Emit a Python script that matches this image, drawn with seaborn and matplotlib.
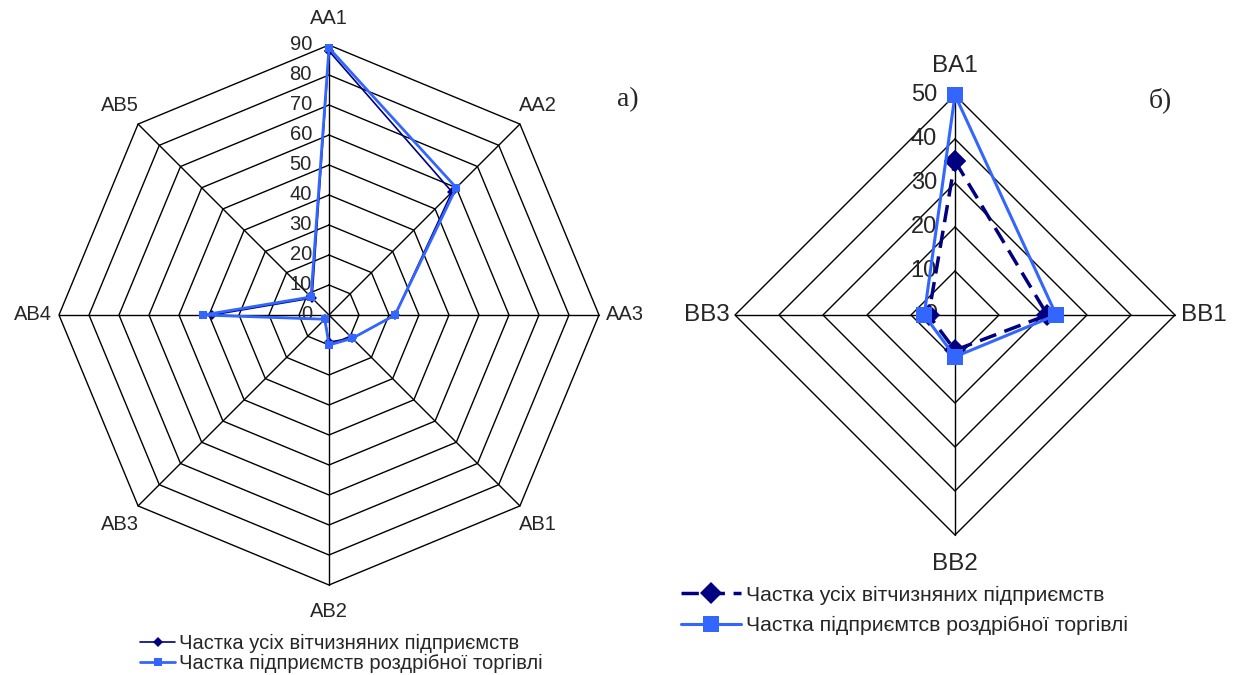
import numpy as np
import pandas as pd
import matplotlib
matplotlib.use('Agg')
import matplotlib.pyplot as plt
import matplotlib.transforms as mtransforms
import seaborn as sns

# дані з рисунка
left_cats = ['AA1', 'AA2', 'AA3', 'AB1', 'AB2', 'AB3', 'AB4', 'AB5']
left_all = [88, 58, 22, 11, 9, 2, 39, 8]
left_retail = [89, 60, 22, 11, 10, 2, 42, 8.5]
left_ticks = [0, 10, 20, 30, 40, 50, 60, 70, 80, 90]

right_cats = ['BA1', 'BB1', 'BB2', 'BB3']
right_all = [35, 21, 8, 6]
right_retail = [50, 23, 9.5, 7]
right_ticks = [0, 10, 20, 30, 40, 50]

label_all = 'Частка усіх вітчизняних підприємств'
label_retail_a = 'Частка підприємств роздрібної торгівлі'
label_retail_b = 'Частка підприємтсв роздрібної торгівлі'

sns.set_style('white')
plt.rcParams['font.family'] = ['Liberation Sans', 'DejaVu Sans']

NAVY = '#000080'
BLUE = '#3366FF'


def radar_frame(ax, cats, ticks, lab_r, fs_cat, fs_tick, tick_dx):
    n = len(cats)
    theta = np.linspace(0, 2 * np.pi, n, endpoint=False)
    ax.set_theta_zero_location('N')
    ax.set_theta_direction(-1)
    ax.grid(False)
    ax.spines['polar'].set_visible(False)
    ax.set_xticks([])
    ax.set_yticks([])
    ax.set_ylim(0, ticks[-1])
    tc = np.append(theta, 0)
    # багатокутна сітка
    for t in ticks[1:]:
        ax.plot(tc, [t] * (n + 1), color='black', lw=1.0, zorder=1, clip_on=False)
    for th in theta:
        ax.plot([th, th], [0, ticks[-1]], color='black', lw=1.0, zorder=1, clip_on=False)
    # підписи шкали
    tr = mtransforms.offset_copy(ax.transData, fig=ax.figure, x=tick_dx, y=0, units='dots')
    for t in ticks:
        ax.text(0, t, str(t), transform=tr, ha='right', va='center', fontsize=fs_tick, zorder=2)
    for th, c in zip(theta, cats):
        ax.text(th, lab_r, c, ha='center', va='center', fontsize=fs_cat)
    return theta


def series(ax, theta, vals, **kw):
    df = pd.DataFrame({'theta': np.append(theta, 2 * np.pi), 'r': vals + vals[:1]})
    sns.lineplot(data=df, x='theta', y='r', ax=ax, sort=False, estimator=None,
                 clip_on=False, **kw)


fig = plt.figure(figsize=(12.39, 6.75), dpi=100)
W, H = 1239, 675

# а) ліва діаграма
ax1 = fig.add_axes([59 / W, (H - 585) / H, 540 / W, 540 / H], projection='polar')
th1 = radar_frame(ax1, left_cats, left_ticks, 98.7, 14.5, 14.5, -17)
series(ax1, th1, left_all, color=NAVY, lw=1.2, marker='D', markersize=5,
       markeredgewidth=0, label=label_all, zorder=3)
series(ax1, th1, left_retail, color=BLUE, lw=2.0, marker='s', markersize=6,
       markeredgewidth=0, label=label_retail_a, zorder=4)
ax1.set_xlabel('')
ax1.set_ylabel('')
ax1.get_legend().remove()

# б) права діаграма
ax2 = fig.add_axes([735 / W, (H - 535) / H, 440 / W, 440 / H], projection='polar')
th2 = radar_frame(ax2, right_cats, right_ticks, 56.5, 17.5, 17, -18)
series(ax2, th2, right_all, color=NAVY, lw=2.5, marker='D', markersize=11,
       markeredgewidth=0, linestyle=(0, (5, 2.5)), label=label_all, zorder=3)
series(ax2, th2, right_retail, color=BLUE, lw=2.2, marker='s', markersize=12,
       markeredgewidth=0, label=label_retail_b, zorder=4)
ax2.set_xlabel('')
ax2.set_ylabel('')
ax2.get_legend().remove()

h1, l1 = ax1.get_legend_handles_labels()
fig.legend(h1, l1, loc='upper left', bbox_to_anchor=(130 / W, 1 - 624 / H),
           frameon=False, fontsize=14.5, handlelength=1.75, handletextpad=0.2,
           labelspacing=0.05, borderpad=0)
h2, l2 = ax2.get_legend_handles_labels()
fig.legend(h2, l2, loc='upper left', bbox_to_anchor=(670 / W, 1 - 575 / H),
           frameon=False, fontsize=15.3, handlelength=2.85, handletextpad=0.25,
           labelspacing=0.55, borderpad=0)

fig.text(628 / W, 1 - 100 / H, 'а)', family='Liberation Serif', fontsize=20,
         ha='center', va='center')
fig.text(1160 / W, 1 - 100 / H, 'б)', family='Liberation Serif', fontsize=20,
         ha='center', va='center')

fig.savefig('out.png', dpi=100)
